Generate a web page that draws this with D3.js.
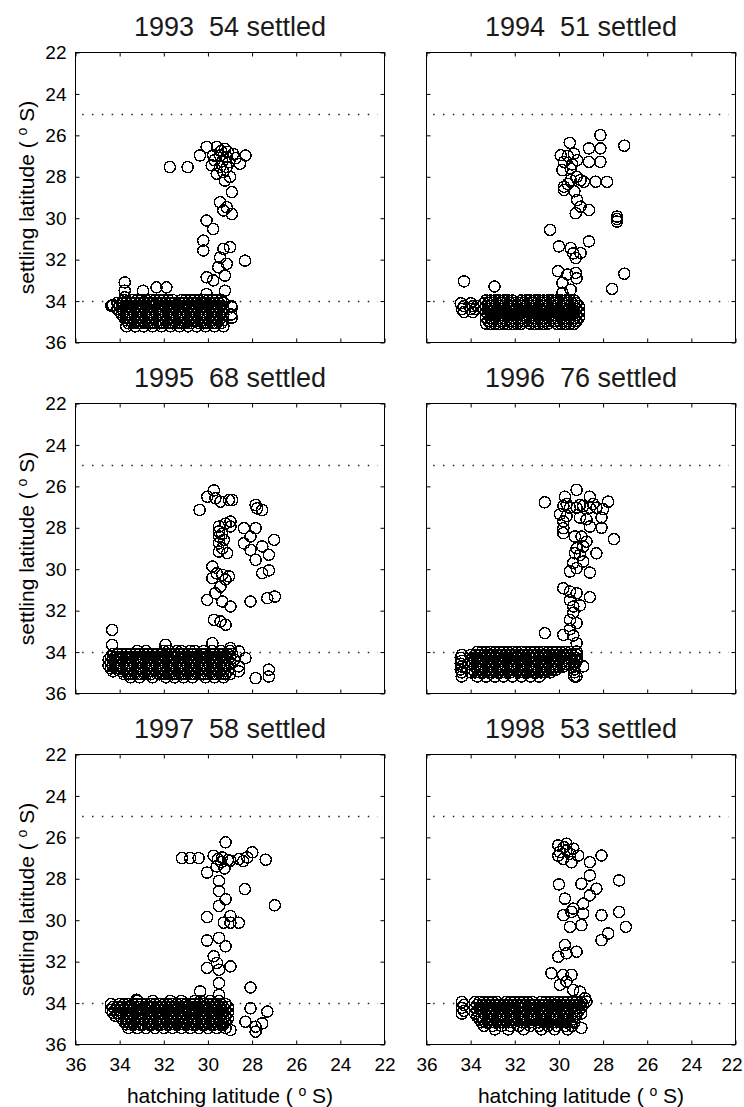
<!DOCTYPE html>
<html>
<head>
<meta charset="utf-8">
<script src="https://cdn.jsdelivr.net/npm/d3@7"></script>
<style>
    body { margin: 0; background: #fff; }
    svg { display: block; }
    text { font-family: "Liberation Sans", Arial, Helvetica, sans-serif; fill: #000; }
</style>
</head>
<body>
<svg id="chart" width="744" height="1107"></svg>
<script>
const years = [1993, 1994, 1995, 1996, 1997, 1998];
const settledCounts = [54, 51, 68, 76, 58, 53];
const xTicks = [36, 34, 32, 30, 28, 26, 24, 22];
const yTicks = [22, 24, 26, 28, 30, 32, 34, 36];
const guideLats = [25, 34];

// scattered points, [hatching lat, settling lat]
const spread1993 = [[30.06,26.56],[30.36,26.97],[29.6,26.56],[29.23,26.65],[28.85,26.9],[28.3,26.97],[28.55,27.37],[29.76,26.97],[29.45,26.97],[29.15,27.05],[29.83,27.45],[29.45,27.53],[29.15,27.53],[29.6,27.85],[29.3,27.77],[29.0,28.0],[29.23,28.18],[28.92,28.74],[31.73,27.53],[30.92,27.53],[29.4,26.75],[29.1,26.8],[29.7,27.2],[29.35,27.25],[29.05,27.3],[28.75,27.1],
    [29.45,29.23],[29.15,29.47],[28.92,29.8],[29.3,29.63],[30.06,30.11],[29.76,30.52],[30.21,31.08],[30.21,31.56],[29.0,31.4],[29.3,31.48],[28.32,32.05],[29.45,31.9],[29.15,32.2],[29.53,32.37],[29.23,32.77],[30.06,32.85],[29.76,33.0],[29.23,33.5],
    [34.38,34.23],[34.3,34.2],[33.77,33.1],[33.77,33.5],[33.77,33.82],[32.94,33.5],[32.33,33.34],[31.88,33.34],[30.06,33.66],[28.92,34.3],[28.92,34.8]];
const spread1994 = [[28.12,25.99],[27.04,26.5],[29.51,26.36],[28.64,26.63],[28.12,26.63],[28.12,27.28],[28.64,27.28],[29.92,26.96],[29.77,27.28],[29.32,26.88],[29.17,27.2],[29.84,27.68],[29.47,27.6],[29.02,28.16],[28.87,28.24],[28.34,28.24],[27.82,28.24],[29.77,28.48],[29.77,28.64],[29.47,28.16],[29.6,27.0],[29.4,27.4],[29.2,28.0],[29.6,28.35],[29.3,28.7],
    [29.17,29.12],[29.02,29.44],[28.64,29.6],[29.24,29.76],[27.37,29.92],[27.37,30.16],[27.37,30.04],[30.4,30.56],[30.0,31.36],[29.47,31.44],[29.02,31.68],[28.64,31.12],[29.24,31.92],[29.35,31.7],[30.04,32.56],[29.62,32.72],[29.24,32.64],[29.2,32.9],[27.04,32.68],[27.59,33.41],[29.84,33.12],[29.47,33.45],[29.84,33.6],[34.3,33.05],[32.92,33.3]];
const spread1995 = [[29.73,26.2],[30.03,26.5],[29.66,26.58],[29.43,26.74],[29.05,26.66],[28.9,26.66],[30.38,27.14],[27.84,26.9],[27.77,27.06],[27.54,27.14],[28.98,27.7],[28.98,27.94],[29.5,27.94],[29.5,28.18],[29.5,28.42],[29.5,28.75],[29.28,28.58],[29.35,28.99],[29.5,29.15],[29.13,29.23],[29.2,27.8],[29.35,28.3],
    [28.37,28.02],[27.84,28.02],[28.07,28.42],[28.37,28.75],[27.54,28.9],[27.0,28.58],[27.24,29.3],[27.84,29.55],[28.07,29.07],[29.8,29.87],[29.8,30.43],[29.35,30.27],[29.05,30.35],[29.43,30.84],[29.6,30.2],[29.2,30.5],[27.54,30.19],[27.24,30.06],
    [30.03,31.48],[29.66,31.16],[29.35,31.56],[28.98,31.8],[28.07,31.56],[27.31,31.4],[26.97,31.32],[29.73,32.44],[29.43,32.52],[29.2,32.68],[34.34,32.93],[34.34,33.65],[29.8,33.57],[31.92,33.65],[28.98,33.81],[28.6,33.97],[28.3,34.29],[28.6,34.69],[28.6,34.93],[27.24,34.85],[27.24,35.18],[27.84,35.26]];
const spread1996 = [[29.2,26.17],[30.64,26.77],[29.73,26.5],[28.6,26.5],[27.77,26.74],[29.8,26.95],[29.5,27.03],[29.2,27.03],[28.9,26.95],[28.6,27.03],[28.3,27.03],[28.0,27.1],[29.65,26.85],[29.05,26.9],[28.45,26.85],
    [29.95,27.35],[29.65,27.43],[29.05,27.51],[28.75,27.59],[28.07,27.51],[28.07,28.0],[29.8,27.7],[29.8,28.02],[29.8,28.26],[28.6,27.94],[29.28,28.42],[28.98,28.42],[28.75,28.67],[27.51,28.55],[29.2,28.99],[28.9,28.9],[29.05,29.31],[29.28,29.23],[28.3,29.23],
    [29.35,29.7],[28.9,29.63],[29.5,30.11],[28.6,30.16],[29.2,29.95],[29.8,30.92],[29.5,31.08],[29.2,31.16],[28.6,31.35],[29.5,31.5],[29.35,31.8],[29.05,31.75],[29.35,32.1],[29.5,32.45],[29.2,32.6],[29.5,32.9],[29.35,33.2],
    [30.64,33.09],[29.8,33.17],[29.2,33.57],[29.2,33.97],[29.2,34.29],[28.9,34.69],[29.2,35.18]];
const spread1997 = [[29.2,26.24],[31.18,27.0],[30.42,27.0],[29.74,26.89],[29.36,26.97],[28.98,27.13],[28.6,27.05],[28.22,26.97],[27.99,26.72],[27.38,27.08],[29.55,27.05],[29.4,27.2],[29.1,27.1],[29.6,27.4],[29.25,27.5],[30.8,27.0],[28.4,27.15],
    [30.04,27.7],[29.5,28.1],[29.5,28.59],[29.2,28.99],[29.5,29.31],[28.33,28.5],[26.97,29.28],[30.04,29.85],[28.98,29.8],[29.28,30.12],[28.98,30.12],[28.6,30.12],[30.04,30.98],[29.5,30.85],[29.2,31.26],[29.74,31.74],[29.59,32.06],[30.04,32.3],[29.5,32.39],[28.98,32.23],
    [29.5,33.04],[28.07,33.25],[30.35,33.44],[29.5,33.6],[33.23,33.84],[28.07,34.25],[28.3,34.9],[27.84,35.14],[27.31,34.41],[27.54,34.98],[27.84,35.38],[28.98,35.3]];
const spread1998 = [[30.03,26.39],[29.66,26.31],[29.35,26.55],[29.96,26.71],[29.5,26.79],[29.13,26.88],[29.81,27.04],[29.43,27.2],[30.03,26.88],[29.66,26.63],[29.78,26.47],
    [28.6,27.2],[28.07,26.88],[28.6,27.84],[28.98,28.24],[28.3,28.48],[28.6,28.8],[30.0,28.27],[27.27,28.08],[29.73,28.96],[28.9,29.2],[29.35,29.44],[29.8,29.76],[29.43,29.6],[28.9,29.68],[29.5,30.32],[28.98,30.24],
    [28.07,29.76],[27.27,29.6],[26.97,30.32],[27.77,30.64],[28.07,30.96],[29.73,31.2],[30.03,31.76],[29.66,31.6],[29.2,31.52],
    [30.34,32.56],[29.81,32.64],[29.43,32.64],[29.66,32.96],[29.96,33.12],[29.35,33.37],[29.05,33.45],[28.75,33.93],[29.05,34.09],[28.82,33.77],[28.98,35.2]];

// dense settlement near 34-35 S: [settling lat, hatching lats]
const blob1993 = [
    [33.95, [33.8,33.4,33.2,33.0,32.8,32.6,32.4,32.2,32.0,31.8,31.6,31.2,31.0,30.8,30.6,30.4,30.2,30.0,29.8,29.6,29.4]],
    [34.09, [34.1,33.9,33.7,33.5,33.3,33.1,32.9,32.7,32.5,32.3,32.1,31.9,31.7,31.5,31.3,31.1,30.9,30.7,30.5,30.3,30.1,29.9,29.7,29.5,29.3]],
    [34.23, [34.35,34.0,33.8,33.6,33.4,33.2,33.0,32.8,32.6,32.4,32.2,32.0,31.8,31.6,31.4,31.2,31.0,30.8,30.6,30.4,30.2,30.0,29.8,29.6,29.4,28.95]],
    [34.37, [34.1,33.9,33.7,33.5,33.3,33.1,32.9,32.7,32.3,32.1,31.9,31.7,31.5,31.3,31.1,30.9,30.7,30.5,30.3,30.1,29.9,29.7,29.5,29.3]],
    [34.51, [34.0,33.8,33.6,33.4,33.2,33.0,32.8,32.6,32.4,32.2,32.0,31.8,31.6,31.4,31.2,30.8,30.6,30.4,30.2,30.0,29.8,29.6,29.4]],
    [34.65, [33.9,33.7,33.5,33.3,33.1,32.9,32.7,32.5,32.3,32.1,31.9,31.7,31.5,31.3,31.1,30.9,30.7,30.5,30.3,30.1,29.9,29.7,29.5,29.3,28.95]],
    [34.79, [33.8,33.6,33.4,33.2,33.0,32.8,32.6,32.4,32.0,31.8,31.6,31.4,31.2,31.0,30.8,30.6,30.4,30.2,30.0,29.8,29.6,29.4]],
    [34.93, [33.7,33.5,33.3,33.1,32.9,32.7,32.5,32.3,32.1,31.9,31.7,31.5,31.3,31.1,30.9,30.7,30.5,30.3,30.1,29.9,29.7,29.5,29.3]],
    [35.07, [33.6,33.4,33.2,33.0,32.8,32.6,32.4,32.2,32.0,31.8,31.6,31.4,31.2,31.0,30.8,30.4,30.2,30.0,29.8,29.6,29.4]],
    [35.22, [33.7,33.3,32.9,32.5,32.1,31.7,31.3,30.9,30.5,30.1,29.7,29.3]]];
const blob1994 = [
    [33.97, [33.3,33.1,32.9,32.7,32.5,32.3,32.1,31.7,31.5,31.3,31.1,30.9,30.7,30.5,30.3,30.1,29.9,29.7,29.5,29.3]],
    [34.11, [34.45,34.0,33.4,33.2,33.0,32.8,32.6,32.4,32.2,32.0,31.8,31.6,31.4,31.2,31.0,30.8,30.6,30.4,30.2,30.0,29.8,29.6,29.4,29.2]],
    [34.25, [34.3,33.9,33.7,33.3,33.1,32.9,32.7,32.5,32.3,32.1,31.9,31.7,31.5,31.3,31.1,30.9,30.7,30.5,30.3,30.1,29.9,29.7,29.5,29.3,29.1]],
    [34.39, [34.4,34.0,33.8,33.4,33.2,33.0,32.8,32.6,32.4,32.2,32.0,31.8,31.6,31.4,31.2,31.0,30.8,30.6,30.4,30.2,30.0,29.8,29.6,29.4,29.2]],
    [34.53, [34.3,33.9,33.3,33.1,32.9,32.7,32.5,32.3,32.1,31.9,31.7,31.5,31.3,31.1,30.9,30.5,30.3,30.1,29.9,29.7,29.5,29.3,29.1]],
    [34.67, [33.2,33.0,32.8,32.6,32.4,32.2,32.0,31.8,31.6,31.4,31.2,31.0,30.8,30.6,30.4,30.2,30.0,29.8,29.6,29.4,29.2]],
    [34.81, [33.3,33.1,32.9,32.7,32.5,32.1,31.9,31.7,31.5,31.3,31.1,30.9,30.7,30.5,30.3,30.1,29.9,29.7,29.5,29.3,29.1]],
    [34.95, [33.2,33.0,32.8,32.6,32.4,32.2,32.0,31.8,31.6,31.4,31.2,31.0,30.8,30.6,30.4,30.2,30.0,29.8,29.6,29.4,29.2]],
    [35.09, [33.3,33.1,32.9,32.7,32.5,32.3,32.1,31.9,31.7,31.3,31.1,30.9,30.7,30.5,30.1,29.9,29.7,29.5,29.3]]];
const blob1995 = [
    [33.95, [33.2,32.8,32.0,31.8,31.4,31.2,30.8,30.6,30.2,29.8,29.4,29.0]],
    [34.09, [34.3,34.1,33.9,33.7,33.5,33.3,33.1,32.9,32.7,32.5,32.3,32.1,31.9,31.7,31.5,31.3,31.1,30.9,30.7,30.5,30.3,30.1,29.9,29.7,29.5,29.3,29.1,28.9]],
    [34.23, [34.4,34.2,34.0,33.8,33.6,33.4,33.2,33.0,32.8,32.6,32.4,32.2,32.0,31.8,31.6,31.4,31.2,31.0,30.8,30.6,30.4,30.2,30.0,29.8,29.6,29.4,29.2,29.0]],
    [34.37, [34.5,34.3,34.1,33.9,33.7,33.5,33.3,33.1,32.9,32.7,32.5,32.3,32.1,31.9,31.7,31.3,31.1,30.9,30.7,30.5,30.3,30.1,29.9,29.7,29.5,29.3,29.1,28.8]],
    [34.51, [34.4,34.2,34.0,33.8,33.6,33.4,33.2,33.0,32.8,32.6,32.4,32.2,32.0,31.8,31.6,31.4,31.2,31.0,30.8,30.6,30.4,30.2,30.0,29.8,29.6,29.4,29.2,29.0]],
    [34.65, [34.5,34.3,34.1,33.9,33.7,33.5,33.3,32.9,32.7,32.5,32.3,32.1,31.9,31.7,31.5,31.3,31.1,30.9,30.7,30.5,30.3,30.1,29.9,29.7,29.5,29.3,29.1]],
    [34.79, [34.4,34.2,34.0,33.8,33.6,33.4,33.2,33.0,32.8,32.6,32.4,32.2,32.0,31.8,31.6,31.4,31.2,31.0,30.8,30.6,30.4,30.2,30.0,29.8,29.6,29.4,29.2]],
    [34.93, [34.3,33.9,33.7,33.5,33.3,33.1,32.9,32.7,32.5,32.3,32.1,31.9,31.7,31.5,31.3,31.1,30.9,30.7,30.5,30.1,29.9,29.7,29.5,29.3,29.1]],
    [35.07, [33.8,33.6,33.4,33.2,33.0,32.8,32.6,32.2,32.0,31.8,31.6,31.4,31.2,31.0,30.8,30.6,30.4,30.2,30.0,29.8,29.6,29.4,29.2,29.0]],
    [35.22, [33.5,33.1,32.5,31.9,31.5,31.1,30.7,30.1,29.7,29.3]]];
const blob1996 = [
    [34.0, [33.7,33.5,33.3,33.1,32.9,32.7,32.5,32.3,32.1,31.9,31.7,31.5,31.3,31.1,30.9,30.7,30.5,30.3,30.1,29.9,29.7,29.5]],
    [34.14, [34.4,34.0,33.8,33.6,33.4,33.2,33.0,32.8,32.6,32.4,32.2,32.0,31.8,31.6,31.4,31.2,31.0,30.8,30.6,30.4,30.2,30.0,29.8,29.6,29.4,29.2]],
    [34.28, [34.45,33.9,33.7,33.5,33.3,33.1,32.9,32.7,32.5,32.3,32.1,31.9,31.7,31.5,31.3,31.1,30.9,30.7,30.5,30.3,30.1,29.9,29.7,29.5,29.3]],
    [34.42, [34.4,34.0,33.8,33.6,33.4,33.2,33.0,32.8,32.6,32.4,32.2,32.0,31.8,31.6,31.4,31.0,30.8,30.6,30.4,30.2,30.0,29.8,29.6,29.4,29.2]],
    [34.56, [34.45,34.1,33.9,33.7,33.5,33.3,33.1,32.9,32.7,32.5,32.3,32.1,31.9,31.7,31.5,31.3,31.1,30.9,30.7,30.5,30.3,30.1,29.9,29.7,29.5,29.3]],
    [34.7, [34.4,33.8,33.6,33.4,33.2,33.0,32.8,32.6,32.4,32.2,32.0,31.8,31.6,31.4,31.2,31.0,30.8,30.6,30.4,30.2,30.0,29.8,29.3]],
    [34.84, [34.45,33.9,33.7,33.5,33.3,33.1,32.9,32.7,32.5,32.3,32.1,31.9,31.7,31.5,31.3,31.1,30.9,30.7,30.5,30.3,30.1,29.3]],
    [34.98, [34.4,34.0,33.8,33.6,33.4,33.2,33.0,32.8,32.6,32.4,32.2,31.8,31.6,31.4,31.2,31.0,30.8,30.6,30.4,29.3]],
    [35.18, [34.4,33.7,33.3,32.9,32.5,32.1,31.7,31.3,30.9,29.3]]];
const blob1997 = [
    [33.9, [33.2,32.5,31.7,31.2,30.6,30.35,29.9,29.5]],
    [34.05, [34.4,34.0,33.8,33.6,33.4,33.2,33.0,32.8,32.6,32.4,32.2,32.0,31.8,31.6,31.4,31.2,31.0,30.8,30.6,30.4,30.2,30.0,29.8,29.6,29.4,29.2]],
    [34.19, [34.3,34.1,33.9,33.7,33.5,33.3,33.1,32.9,32.7,32.5,32.3,32.1,31.9,31.7,31.5,31.3,31.1,30.9,30.7,30.5,30.3,30.1,29.9,29.7,29.5,29.3,29.1]],
    [34.33, [34.4,34.2,34.0,33.8,33.6,33.4,33.2,33.0,32.8,32.4,32.2,32.0,31.8,31.6,31.4,31.2,31.0,30.8,30.6,30.4,30.2,30.0,29.8,29.6,29.4,29.2]],
    [34.47, [34.3,34.1,33.9,33.7,33.5,33.3,33.1,32.9,32.7,32.5,32.3,32.1,31.9,31.7,31.5,31.3,31.1,30.9,30.7,30.5,30.3,30.1,29.9,29.7,29.5,29.3,29.1]],
    [34.61, [34.2,34.0,33.8,33.6,33.4,33.2,33.0,32.8,32.6,32.4,32.2,32.0,31.8,31.6,31.4,31.2,30.8,30.6,30.4,30.2,30.0,29.8,29.6,29.4,29.2]],
    [34.75, [33.9,33.7,33.5,33.3,33.1,32.9,32.7,32.5,32.3,32.1,31.9,31.7,31.5,31.3,31.1,30.9,30.7,30.5,30.3,30.1,29.9,29.7,29.5,29.3,29.1]],
    [34.89, [33.8,33.6,33.4,33.2,32.8,32.6,32.4,32.2,32.0,31.8,31.6,31.4,31.2,31.0,30.8,30.6,30.4,30.2,30.0,29.8,29.6,29.4,29.2]],
    [35.03, [33.7,33.5,33.3,33.1,32.9,32.7,32.5,32.3,32.1,31.9,31.7,31.5,31.3,31.1,30.9,30.7,30.5,30.3,30.1,29.9,29.7,29.5,29.3]],
    [35.2, [33.6,33.2,32.8,32.4,32.0,31.6,31.2,30.8,30.4,30.0,29.6,29.2]]];
const blob1998 = [
    [33.95, [34.4,33.8,33.6,33.4,33.2,33.0,32.8,32.4,32.2,32.0,31.8,31.6,31.4,31.2,30.8,30.6,30.4,30.2,30.0,29.8,29.6,29.4,29.2,29.0]],
    [34.09, [34.3,33.7,33.5,33.3,33.1,32.9,32.7,32.5,32.3,32.1,31.9,31.7,31.5,31.3,31.1,30.9,30.7,30.5,30.3,30.1,29.9,29.7,29.5,29.3,29.1,28.9]],
    [34.23, [34.4,33.8,33.6,33.4,33.2,33.0,32.8,32.6,32.4,32.2,32.0,31.8,31.6,31.4,31.2,31.0,30.8,30.6,30.4,30.2,30.0,29.8,29.6,29.4,29.2,29.0]],
    [34.37, [34.3,33.7,33.5,33.3,33.1,32.9,32.7,32.5,32.3,32.1,31.9,31.5,31.3,31.1,30.9,30.7,30.5,30.3,30.1,29.9,29.7,29.5,29.3,29.1]],
    [34.51, [34.4,33.8,33.4,33.2,33.0,32.8,32.6,32.4,32.2,32.0,31.8,31.6,31.4,31.2,31.0,30.8,30.6,30.4,30.2,30.0,29.8,29.6,29.4,29.2,29.0]],
    [34.65, [33.7,33.5,33.3,33.1,32.9,32.7,32.5,32.3,32.1,31.9,31.7,31.5,31.3,31.1,30.9,30.7,30.5,30.3,30.1,29.9,29.7,29.5,29.3]],
    [34.79, [33.6,33.4,33.2,33.0,32.8,32.6,32.2,32.0,31.8,31.6,31.4,31.2,31.0,30.8,30.6,30.4,30.2,30.0,29.8,29.6,29.4]],
    [34.93, [33.5,33.3,33.1,32.9,32.7,32.5,32.3,32.1,31.7,31.5,31.3,30.9,30.7,30.5,30.3,30.1,29.9,29.7,29.5,29.3]],
    [35.1, [33.4,33.0,32.6,32.2,31.8,31.3,30.9,30.5,30.1,29.7,29.4]],
    [35.27, [32.9,32.3,31.6,30.8,30.2,29.6]]];

const spreads = [spread1993, spread1994, spread1995, spread1996, spread1997, spread1998];
const blobs = [blob1993, blob1994, blob1995, blob1996, blob1997, blob1998];

const panel = {width: 309, height: 290};
const colLeft = [75, 426];
const rowTop = [52, 403, 754];

let svg = d3.select("#chart");

function degreeLabel(text, prefix) {
    // "prefix (°S)" with the o raised like the original
    text.append("tspan").text(prefix + " ( ");
    text.append("tspan").attr("font-size", 14).attr("dy", -7).text("o");
    text.append("tspan").attr("dy", 7).text(" S)");
}

years.forEach((year, i) => {
    let col = i % 2;
    let row = Math.floor(i / 2);
    let left = col === 0;
    let bottom = row === 2;

    let scale = {
        x: d3.scaleLinear().domain([36, 22]).range([0, panel.width]),
        y: d3.scaleLinear().domain([22, 36]).range([0, panel.height])
    };

    let group = svg.append("g")
        .attr("transform", `translate(${colLeft[col] + 0.5}, ${rowTop[row] + 0.5})`);

    // inward ticks on all four sides
    let axes = [
        {axis: d3.axisLeft(scale.y), vertical: true, pos: [0, 0], labels: left},
        {axis: d3.axisRight(scale.y), vertical: true, pos: [panel.width, 0], labels: false},
        {axis: d3.axisTop(scale.x), vertical: false, pos: [0, 0], labels: false},
        {axis: d3.axisBottom(scale.x), vertical: false, pos: [0, panel.height], labels: bottom}
    ];
    axes.forEach(a => {
        a.axis.tickValues(a.vertical ? yTicks : xTicks)
            .tickSizeInner(-4)
            .tickSizeOuter(0)
            .tickPadding(a.vertical ? 9 : 13)
            .tickFormat(a.labels ? d3.format("d") : "");
        let g = group.append("g")
            .attr("transform", `translate(${a.pos[0]}, ${a.pos[1]})`)
            .call(a.axis);
        g.select(".domain").remove();
        g.selectAll("line").attr("stroke", "#000");
        g.selectAll("text").attr("font-size", 19);
        g.attr("font-family", null).attr("font-size", null);
        // keep the last label of the right panel inside the page
        if (!a.vertical && col === 1) {
            g.selectAll("text").filter(d => d === 22).attr("dx", -4);
        }
    });

    group.append("rect")
        .attr("width", panel.width)
        .attr("height", panel.height)
        .attr("fill", "none")
        .attr("stroke", "#000")
        .attr("stroke-width", 1);

    group.selectAll(".guide")
        .data(guideLats)
        .enter()
        .append("line")
        .attr("class", "guide")
        .attr("x1", scale.x(35.7))
        .attr("x2", scale.x(22.3))
        .attr("y1", d => Math.round(scale.y(d)))
        .attr("y2", d => Math.round(scale.y(d)))
        .attr("stroke", "#222")
        .attr("stroke-width", 1.5)
        .attr("stroke-dasharray", "1.5,8.35");

    let points = spreads[i].concat(blobs[i].flatMap(([s, hs]) => hs.map(h => [h, s])));

    // aliased rings, like the raster markers of the original
    group.selectAll(".circ")
        .data(points)
        .enter()
        .append("circle")
        .attr("class", "circ")
        .attr("cx", d => scale.x(d[0]))
        .attr("cy", d => scale.y(d[1]))
        .attr("r", 5.6)
        .attr("fill", "none")
        .attr("stroke", "#000")
        .attr("stroke-width", 1.4)
        .attr("shape-rendering", "crispEdges");

    group.append("text")
        .attr("x", panel.width / 2)
        .attr("y", -17)
        .attr("text-anchor", "middle")
        .attr("font-size", 27)
        .style("fill", "#1a1a1a")
        .style("white-space", "pre")
        .text(`${year}  ${settledCounts[i]} settled`);

    if (left) {
        let ylab = group.append("text")
            .attr("transform", `translate(-42, ${panel.height / 2}) rotate(-90)`)
            .attr("text-anchor", "middle")
            .attr("font-size", 21);
        degreeLabel(ylab, "settling latitude");
    }

    if (bottom) {
        let xlab = group.append("text")
            .attr("x", panel.width / 2)
            .attr("y", 1102 - rowTop[row])
            .attr("text-anchor", "middle")
            .attr("font-size", 21);
        degreeLabel(xlab, "hatching latitude");
    }
});
</script>
</body>
</html>
